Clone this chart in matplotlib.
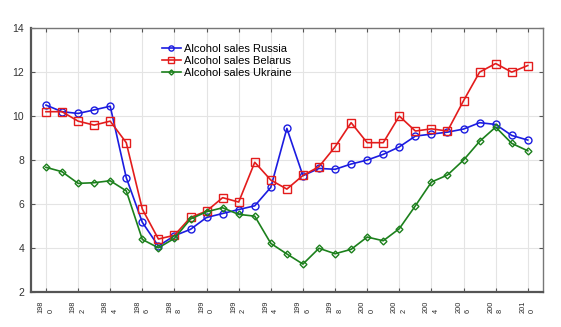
import matplotlib.pyplot as plt

plt.rcParams['font.family'] = ['Liberation Sans', 'DejaVu Sans']

years = list(range(1980, 2011))

russia = [10.5, 10.2, 10.12, 10.28, 10.45, 7.2, 5.17, 4.09, 4.56, 4.85, 5.39, 5.57,
          5.75, 5.92, 6.76, 9.44, 7.29, 7.62, 7.58, 7.82, 8.0, 8.26, 8.6, 9.09,
          9.18, 9.27, 9.41, 9.7, 9.62, 9.12, 8.91]
belarus = [10.2, 10.2, 9.77, 9.59, 9.77, 8.79, 5.77, 4.41, 4.58, 5.39, 5.68, 6.29,
           6.09, 7.9, 7.09, 6.68, 7.3, 7.7, 8.6, 9.7, 8.79, 8.79, 10.0, 9.32,
           9.42, 9.32, 10.7, 12.0, 12.39, 12.0, 12.3]
ukraine = [7.67, 7.47, 6.94, 6.97, 7.06, 6.6, 4.39, 4.01, 4.44, 5.32, 5.65, 5.83,
           5.53, 5.45, 4.21, 3.73, 3.27, 3.99, 3.74, 3.94, 4.5, 4.33, 4.88, 5.92,
           7.0, 7.32, 8.0, 8.85, 9.5, 8.76, 8.42]

xtick_years = list(range(1980, 2011, 2))
xtick_labels = [f"{str(y)[:3]}\n{str(y)[3]}" for y in xtick_years]
yticks = [2, 4, 6, 8, 10, 12, 14]

fig = plt.figure(figsize=(5.61, 3.27), dpi=100)
ax = fig.add_axes([0.0553, 0.107, 0.9127, 0.807])

ax.plot(years, russia, color='#1c1ce0', lw=1.2, marker='o', ms=5, mfc='none',
        mew=1.0, label='Alcohol sales Russia')
ax.plot(years, belarus, color='#e31c1c', lw=1.2, marker='s', ms=5.5, mfc='none',
        mew=1.0, label='Alcohol sales Belarus')
ax.plot(years, ukraine, color='#1c801c', lw=1.2, marker='D', ms=3.5, mfc='none',
        mew=1.0, label='Alcohol sales Ukraine')

ax.set_xlim(1979.07, 2010.95)
ax.set_ylim(2, 14)
ax.set_yticks(yticks)
ax.set_xticks(xtick_years)
ax.set_xticklabels(xtick_labels, rotation=90, fontsize=5.3, color='#2a2a2a',
                   multialignment='left', linespacing=1.55)
ax.tick_params(axis='y', labelsize=7.5, labelcolor='#333333', pad=5)
ax.tick_params(axis='x', pad=6)
ax.tick_params(direction='in', length=3, width=0.8, color='#555555',
               top=True, right=True)

ax.grid(True, color='#e4e4e4', lw=0.8)
ax.set_axisbelow(True)
for side in ['left', 'bottom']:
    ax.spines[side].set_color('#555555')
    ax.spines[side].set_linewidth(1.6)
for side in ['top', 'right']:
    ax.spines[side].set_color('#777777')
    ax.spines[side].set_linewidth(1.0)

ax.legend(loc='upper left', bbox_to_anchor=(0.24, 0.968), frameon=False,
          fontsize=8, handlelength=1.7, handletextpad=0.35, markerscale=0.75,
          labelspacing=0.18, borderpad=0.2)

fig.savefig('out.png', dpi=100)
